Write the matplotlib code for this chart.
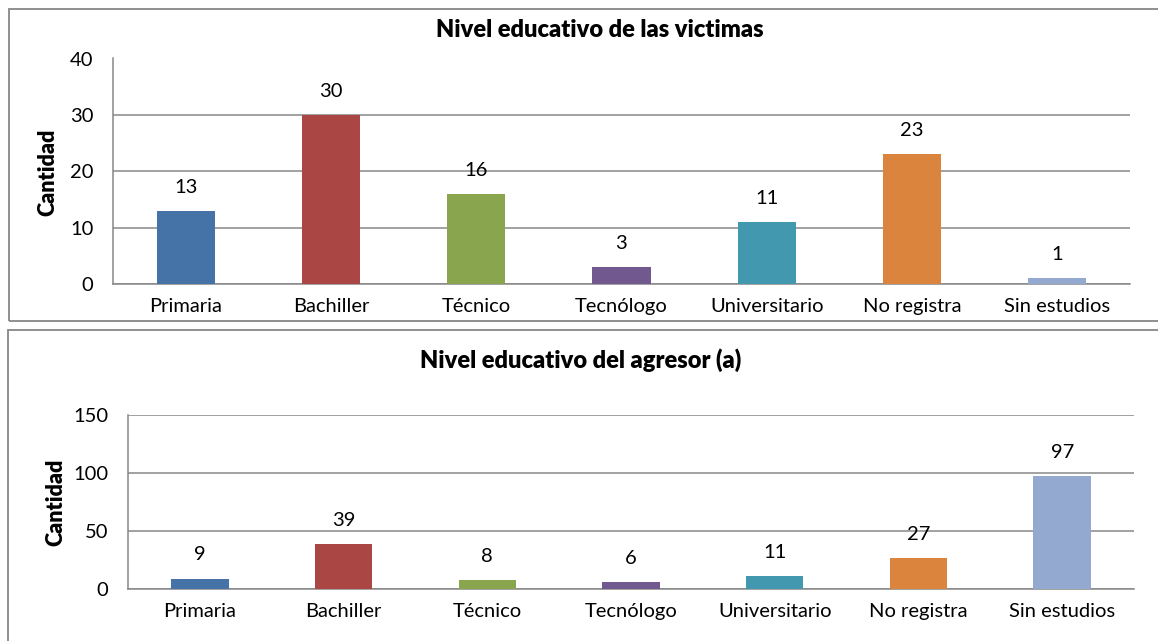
import matplotlib
matplotlib.use('Agg')
import matplotlib.pyplot as plt
from matplotlib.patches import Rectangle

plt.rcParams['font.family'] = ['Lato', 'DejaVu Sans']

categorias = ['Primaria', 'Bachiller', 'Técnico', 'Tecnólogo', 'Universitario', 'No registra', 'Sin estudios']
victimas = [13, 30, 16, 3, 11, 23, 1]
agresor = [9, 39, 8, 6, 11, 27, 97]
colores = ['#4572A7', '#AA4643', '#89A54E', '#71588F', '#4198AF', '#DB843D', '#93A9CF']

W, H = 1158, 641
fig = plt.figure(figsize=(W / 100, H / 100), dpi=100)
gris = '#878787'


def px_rect(x0, y0, x1, y1):
    # pixel box (top-left origin) -> figure fraction
    return [x0 / W, 1 - y1 / H, (x1 - x0) / W, (y1 - y0) / H]


# chart frames
for (x0, y0, x1, y1) in [(9, 9, 1170, 321), (8, 330, 1170, 660)]:
    fig.patches.append(Rectangle((x0 / W, 1 - y1 / H), (x1 - x0) / W, (y1 - y0) / H,
                                 transform=fig.transFigure, fill=False,
                                 edgecolor=gris, linewidth=1.3))


def barras(ax, valores, ymax, paso, titulo, titulo_xy, ylab_xy):
    x = range(len(categorias))
    ax.bar(x, valores, width=0.4, color=colores, zorder=3)
    ax.set_xlim(-0.5, len(categorias) - 0.5)
    ax.set_ylim(0, ymax)
    ax.set_yticks(range(0, ymax + 1, paso))
    ax.set_xticks(list(x))
    ax.set_xticklabels(categorias, fontsize=14.5)
    ax.tick_params(axis='x', length=0, pad=10)
    ax.tick_params(axis='y', length=0, pad=14, labelsize=14.5)
    ax.grid(axis='y', color=gris, linewidth=1.1, zorder=0)
    for s in ['top', 'right']:
        ax.spines[s].set_visible(False)
    for s in ['left', 'bottom']:
        ax.spines[s].set_color(gris)
        ax.spines[s].set_linewidth(1.1)
    for i, v in enumerate(valores):
        ax.annotate(str(v), (i, v), xytext=(0, 17), textcoords='offset points',
                    ha='center', va='center', fontsize=14.5)
    fig.text(titulo_xy[0] / W, 1 - titulo_xy[1] / H, titulo, ha='center', va='center',
             fontsize=17, fontweight='heavy')
    fig.text(ylab_xy[0] / W, 1 - ylab_xy[1] / H, 'Cantidad', rotation=90,
             ha='center', va='center', fontsize=15.5, fontweight='heavy')


ax1 = fig.add_axes(px_rect(113, 58.5, 1130, 284))
ax2 = fig.add_axes(px_rect(128, 415, 1134, 589))

barras(ax1, victimas, 40, 10, 'Nivel educativo de las victimas', (600, 30), (48, 172))
barras(ax2, agresor, 150, 50, 'Nivel educativo del agresor (a)', (581, 360), (56, 502))

fig.savefig('out.png', dpi=100)
